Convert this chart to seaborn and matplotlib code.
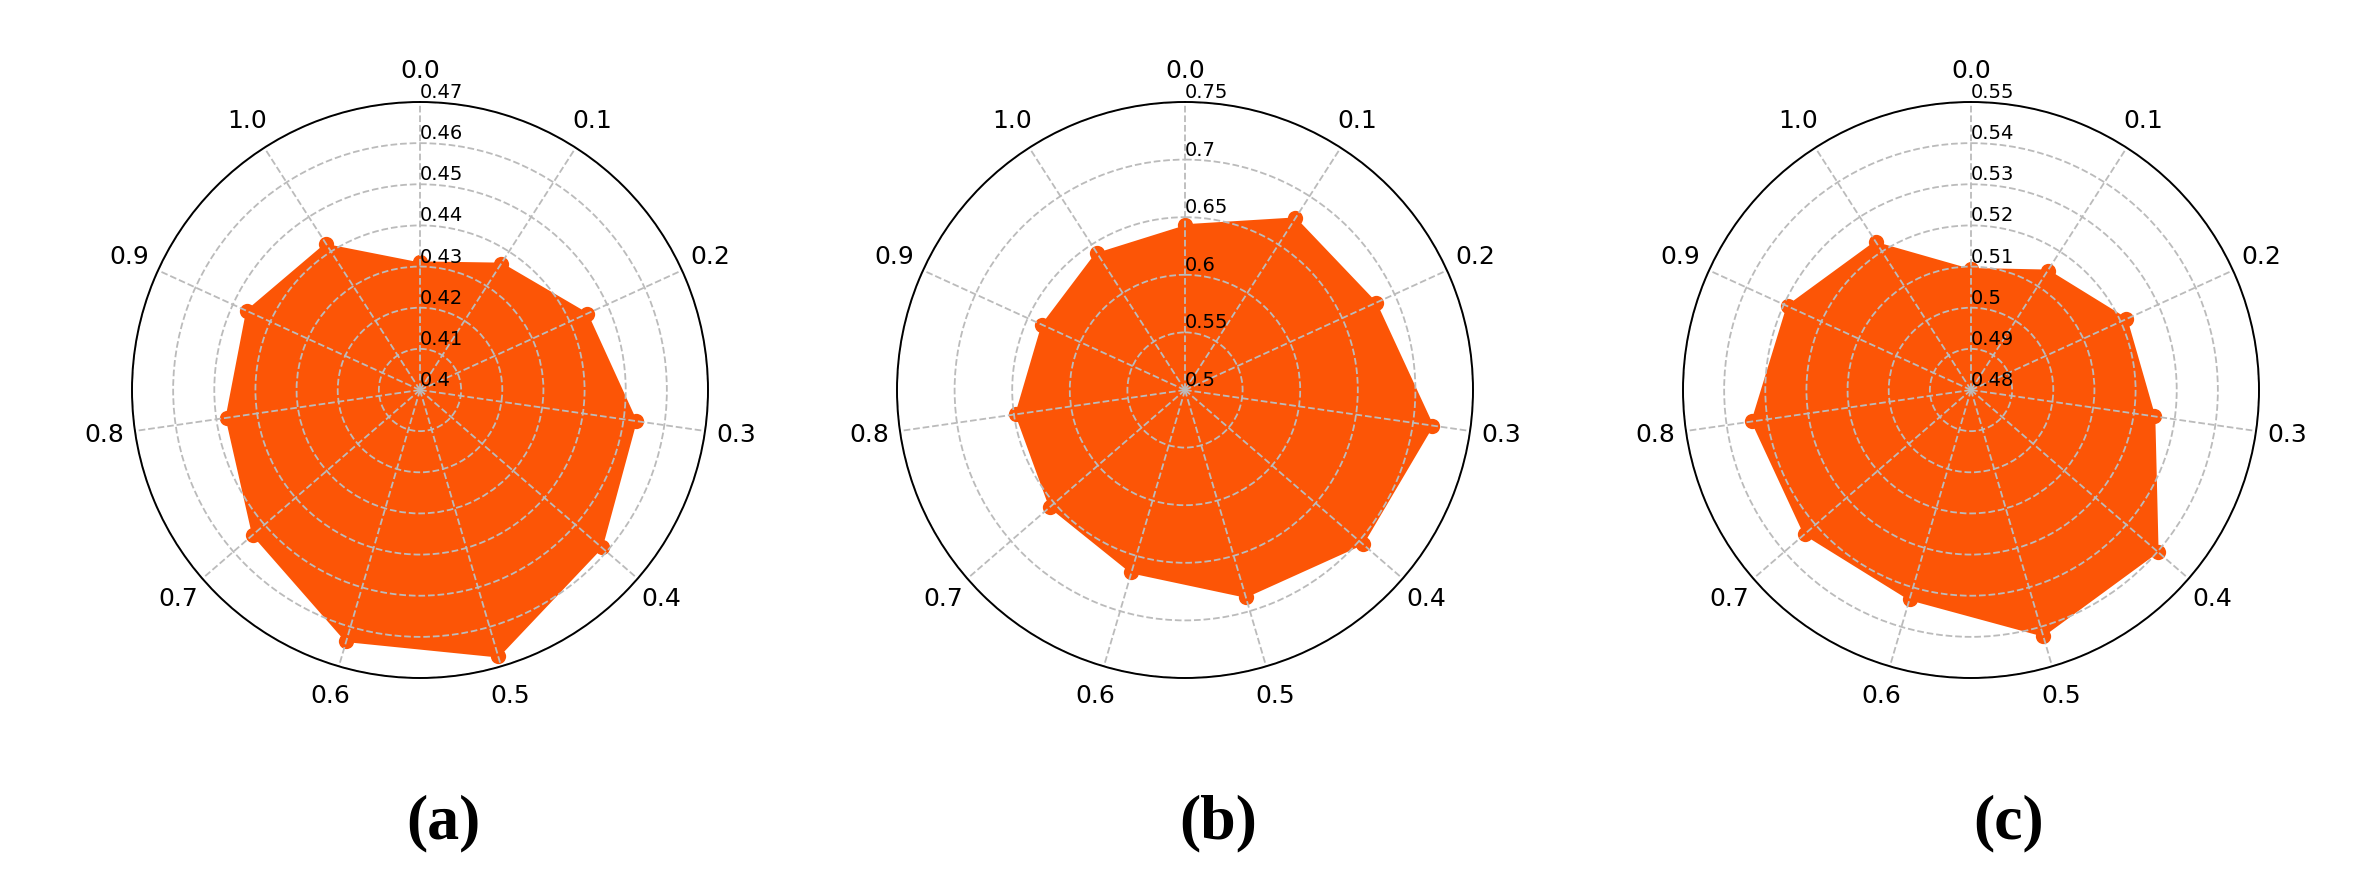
import numpy as np
import pandas as pd
import seaborn as sns
import matplotlib.pyplot as plt

# theta categories (11 evenly spaced spokes, clockwise from top)
theta_labels = ['0.0', '0.1', '0.2', '0.3', '0.4', '0.5', '0.6', '0.7', '0.8', '0.9', '1.0']

# values
vals_a = [0.431, 0.4365, 0.4446, 0.453, 0.4584, 0.4675, 0.4636, 0.4537, 0.4475, 0.4462, 0.4422]
vals_b = [0.643, 0.677, 0.682, 0.717, 0.704, 0.687, 0.665, 0.655, 0.648, 0.636, 0.6415]
vals_c = [0.5094, 0.5145, 0.5215, 0.525, 0.540, 0.5422, 0.533, 0.5335, 0.5337, 0.529, 0.5228]

# radial ticks of each panel
rticks_a = [0.40, 0.41, 0.42, 0.43, 0.44, 0.45, 0.46, 0.47]
rticks_b = [0.50, 0.55, 0.60, 0.65, 0.70, 0.75]
rticks_c = [0.48, 0.49, 0.50, 0.51, 0.52, 0.53, 0.54, 0.55]

panel_labels = ['(a)', '(b)', '(c)']

sns.set_style('white')
plt.rcParams['font.family'] = ['DejaVu Sans']
plt.rcParams['text.color'] = 'black'
plt.rcParams['xtick.color'] = 'black'
plt.rcParams['ytick.color'] = 'black'

W, H = 2370, 891
fig = plt.figure(figsize=(W / 100, H / 100), dpi=100)

orange = '#fc5506'
radius = 288
cy = 390
centers = [420, 1185, 1971]
label_x = [443, 1218, 2009]
label_y = 823

angles = np.linspace(0, 2 * np.pi, len(theta_labels), endpoint=False)

for cx, vals, rt, lab, lx in zip(centers, [vals_a, vals_b, vals_c],
                                 [rticks_a, rticks_b, rticks_c], panel_labels, label_x):
    ax = fig.add_axes([(cx - radius) / W, (H - cy - radius) / H, 2 * radius / W, 2 * radius / H],
                      projection='polar')
    ax.set_theta_zero_location('N')
    ax.set_theta_direction(-1)
    ax.set_axisbelow(False)

    df = pd.DataFrame({'theta': np.append(angles, angles[0]), 'r': list(vals) + [vals[0]]})
    ax.fill(df['theta'], df['r'], color=orange, lw=0, zorder=1)
    sns.lineplot(data=df, x='theta', y='r', sort=False, ax=ax, color=orange, marker='o',
                 markersize=11, markeredgewidth=0, lw=1.5, zorder=1.5)

    ax.set_ylim(rt[0], rt[-1])
    ax.set_yticks(rt)
    ax.set_yticklabels([])
    for t in rt:
        ax.text(0, t, '{:g}'.format(t), ha='left', va='bottom', fontsize=14, color='black', zorder=5)

    ax.set_xticks(angles)
    ax.set_xticklabels(theta_labels, fontsize=18, color='black')
    ax.tick_params(axis='x', pad=12)
    ax.grid(True, color='#bbbbbb', ls='--', lw=1.3)
    ax.spines['polar'].set_color('black')
    ax.spines['polar'].set_linewidth(1.4)
    ax.spines['polar'].set_zorder(4)
    ax.set_xlabel('')
    ax.set_ylabel('')

    fig.text(lx / W, 1 - label_y / H, lab, family='Liberation Serif', fontweight='bold',
             fontsize=46, ha='center', va='center', color='black')

fig.savefig('out.png', dpi=100, facecolor='white')
